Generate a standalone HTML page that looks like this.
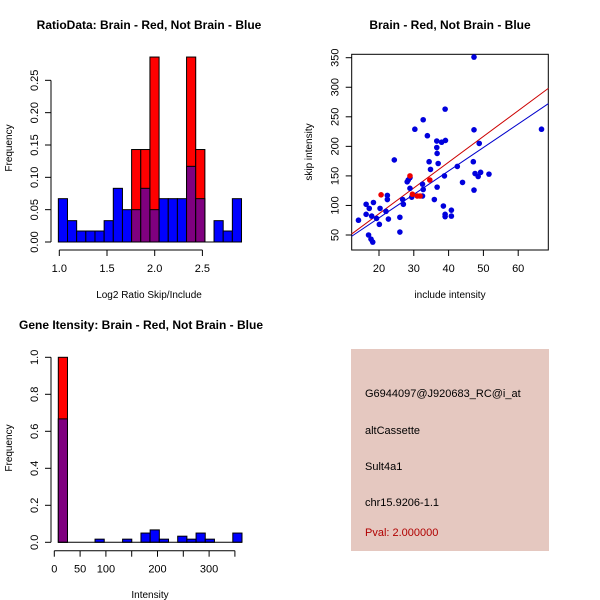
<!DOCTYPE html>
<html><head><meta charset="utf-8"><style>
body{margin:0;background:#fff;}
svg{display:block;font-family:"Liberation Sans",sans-serif;}
</style></head><body>
<svg id="c" width="600" height="600" xmlns="http://www.w3.org/2000/svg">
<rect width="600" height="600" fill="#fff"/>
<g id="p1"></g>
<g id="p2"></g>
<g id="p3"></g>
<g>
<rect x="351" y="349" width="198" height="202" fill="#E5C8C0"/>
<text x="365" y="397" font-size="11" fill="#000">G6944097@J920683_RC@i_at</text>
<text x="365" y="434" font-size="11" fill="#000">altCassette</text>
<text x="365" y="470" font-size="11" fill="#000">Sult4a1</text>
<text x="365" y="506" font-size="11" fill="#000">chr15.9206-1.1</text>
<text x="365" y="536" font-size="11" fill="#b00000">Pval: 2.000000</text>
</g>
</svg>
<script>
// Plot 1 data
const ratioBinStart = 0.99, ratioBinWidth = 0.096;
const ratioBlue = [0.067,0.033,0.017,0.017,0.017,0.033,0.083,0.05,0.05,0.083,0.05,0.067,0.067,0.067,0.117,0.067,0,0.033,0.017,0.067];
const ratioRed  = [0,0,0,0,0,0,0,0,0.143,0.143,0.286,0,0,0,0.286,0.143,0,0,0,0];
const ratioXTicks = [1.0,1.5,2.0,2.5];
const ratioYTicks = ["0.00","0.05","0.10","0.15","0.20","0.25"];
// Plot 2 data
const blueX = [14.1,16.3,16.3,17.2,17,17.7,18.2,18.4,17.9,19.3,20.3,20.1,22,22.4,22.4,22.7,24.4,26,26,26.8,27,28.1,28.4,28.9,28.9,29.4,30.3,32.5,32.7,32.5,32.7,33.9,34.4,34.8,35.9,36.6,36.6,36.7,37,36.7,38,39.1,38.5,38.8,39,39,39,40.8,40.8,42.5,44,47.3,47.3,47.1,47.3,47.6,48.5,48.8,49.2,51.6,66.7];
const blueY = [75,102,85,95,50,43,38,105,82,78,95,68,90,117,110,77,177,80,55,110,102,140,143,147,129,114,229,136,127,116,245,218,174,161,110,209,198,188,171,131,207,210,99,150,263,85,81,92,82,166,139,351,228,174,126,154,149,205,156,153,229];
const redX = [20.6,28.9,29.6,31,31.8,34.6];
const redY = [118,150,119,116,116,143];
const fitRed = [4.36,-1.2];
const fitBlue = [3.97,-0.4];
const scatXTicks = [20,30,40,50,60];
const scatYTicks = [50,100,150,200,250,300,350];
// Plot 3 data
const intBinStart = 7.75, intBinWidth = 17.8;
const intBlue = [0.667,0,0,0,0.017,0,0,0.017,0,0.05,0.067,0.017,0,0.033,0.017,0.05,0.017,0,0,0.05];
const intRed  = [1.0,0,0,0,0,0,0,0,0,0,0,0,0,0,0,0,0,0,0,0];
const intXTicks = [0,50,100,150,200,250,300,350];
const intXLabels = ["0","50","100","","200","","300",""];
const intYTicks = ["0.0","0.2","0.4","0.6","0.8","1.0"];

const NS="http://www.w3.org/2000/svg";
function mk(parent,tag,attrs,text){const e=document.createElementNS(NS,tag);for(const k in attrs)e.setAttribute(k,attrs[k]);if(text!==undefined)e.textContent=text;parent.appendChild(e);return e;}

function hist(g,o){
  const sx=v=>o.x0+(v-o.d0)*o.kx, sy=v=>o.y0-v*o.ky;
  const n=o.blue.length;
  for(let i=0;i<n;i++){
    const a=o.start+i*o.w,b=a+o.w,x1=sx(a),x2=sx(b);
    const r=o.red[i],bl=o.blue[i];
    if(r>0){const e=mk(g,'rect',{x:x1,y:sy(r),width:x2-x1,height:sy(0)-sy(r),fill:'#ff0000',stroke:'#000','stroke-width':1});
      }
    if(bl>0){const e=mk(g,'rect',{x:x1,y:sy(bl),width:x2-x1,height:sy(0)-sy(bl),fill:r>0?'#7f007f':'#0000ff',stroke:'#000','stroke-width':1});
      }
  }
  mk(g,'line',{x1:sx(o.start),x2:sx(o.start+n*o.w),y1:sy(0),y2:sy(0),stroke:'#000'});
  const yv=o.yt.map(Number);
  mk(g,'line',{x1:o.ax,x2:o.ax,y1:sy(yv[0]),y2:sy(yv[yv.length-1]),stroke:'#000'});
  o.yt.forEach(t=>{const y=sy(+t);mk(g,'line',{x1:o.ax-6,x2:o.ax,y1:y,y2:y,stroke:'#000'});
    const e=mk(g,'text',{x:0,y:0,'font-size':11,'text-anchor':'middle',transform:`translate(${o.ax-13},${y}) rotate(-90)`},t);
    });
  mk(g,'line',{x1:sx(o.xt[0]),x2:sx(o.xt[o.xt.length-1]),y1:o.ay,y2:o.ay,stroke:'#000'});
  o.xt.forEach((t,i)=>{const x=sx(t);mk(g,'line',{x1:x,x2:x,y1:o.ay,y2:o.ay+6,stroke:'#000'});
    const lab=o.xl?o.xl[i]:t.toFixed(1);
    if(lab){const e=mk(g,'text',{x:x,y:o.ay+22,'font-size':11,'text-anchor':'middle'},lab);
    }});
}

const g1=document.getElementById('p1');
const t1=mk(g1,'text',{x:149,y:29,'font-size':12,'font-weight':'bold','text-anchor':'middle'},'RatioData: Brain - Red, Not Brain - Blue');

hist(g1,{x0:59.3,d0:1.0,kx:95.4,y0:242,ky:646.7,start:ratioBinStart,w:ratioBinWidth,blue:ratioBlue,red:ratioRed,yt:ratioYTicks,xt:ratioXTicks,ax:51,ay:250});
const xl1=mk(g1,'text',{x:149,y:298,'font-size':10,'text-anchor':'middle'},'Log2 Ratio Skip/Include');

const yl1=mk(g1,'text',{x:0,y:0,'font-size':10,'text-anchor':'middle',transform:'translate(12,148) rotate(-90)'},'Frequency');


// Plot 2
const g2=document.getElementById('p2');
const bx0=351.7,bx1=548.3,by0=54.3,by1=250;
const sx2=v=>379+(v-20)*3.48, sy2=v=>235-(v-50)*0.591;
const t2=mk(g2,'text',{x:450,y:29,'font-size':12,'font-weight':'bold','text-anchor':'middle'},'Brain - Red, Not Brain - Blue');

mk(g2,'rect',{x:bx0,y:by0,width:bx1-bx0,height:by1-by0,fill:'none',stroke:'#000'});
scatXTicks.forEach(t=>{const x=sx2(t);mk(g2,'line',{x1:x,x2:x,y1:by1,y2:by1+6,stroke:'#000'});
  const e=mk(g2,'text',{x:x,y:by1+22,'font-size':11,'text-anchor':'middle'},String(t));
  });
scatYTicks.forEach(t=>{const y=sy2(t);mk(g2,'line',{x1:bx0-6,x2:bx0,y1:y,y2:y,stroke:'#000'});
  const e=mk(g2,'text',{x:0,y:0,'font-size':11,'text-anchor':'middle',transform:`translate(${bx0-13},${y}) rotate(-90)`},String(t));
  });
const dL=12.16,dR=68.65;
[[fitRed,'#cc0000','red-fit-line'],[fitBlue,'#0000cc','blue-fit-line']].forEach(([f,c,n])=>{
  const e=mk(g2,'line',{x1:sx2(dL),x2:sx2(dR),y1:sy2(f[0]*dL+f[1]),y2:sy2(f[0]*dR+f[1]),stroke:c,'stroke-width':1});
  });
blueX.forEach((v,i)=>{const e=mk(g2,'circle',{cx:sx2(v),cy:sy2(blueY[i]),r:2.8,fill:'#0000dd'});
  });
redX.forEach((v,i)=>{const e=mk(g2,'circle',{cx:sx2(v),cy:sy2(redY[i]),r:2.8,fill:'#ee0000'});
  });
const xl2=mk(g2,'text',{x:450,y:298,'font-size':10,'text-anchor':'middle'},'include intensity');

const yl2=mk(g2,'text',{x:0,y:0,'font-size':10,'text-anchor':'middle',transform:'translate(312,152) rotate(-90)'},'skip intensity');


// Plot 3
const g3=document.getElementById('p3');
const t3=mk(g3,'text',{x:141,y:329,'font-size':12,'font-weight':'bold','text-anchor':'middle'},'Gene Itensity: Brain - Red, Not Brain - Blue');

hist(g3,{x0:54.3,d0:0,kx:0.516,y0:542.3,ky:185,start:intBinStart,w:intBinWidth,blue:intBlue,red:intRed,yt:intYTicks,xt:intXTicks,xl:intXLabels,ax:51,ay:550.7});
const xl3=mk(g3,'text',{x:150,y:598,'font-size':10,'text-anchor':'middle'},'Intensity');

const yl3=mk(g3,'text',{x:0,y:0,'font-size':10,'text-anchor':'middle',transform:'translate(12,448) rotate(-90)'},'Frequency');

</script>
</body></html>
